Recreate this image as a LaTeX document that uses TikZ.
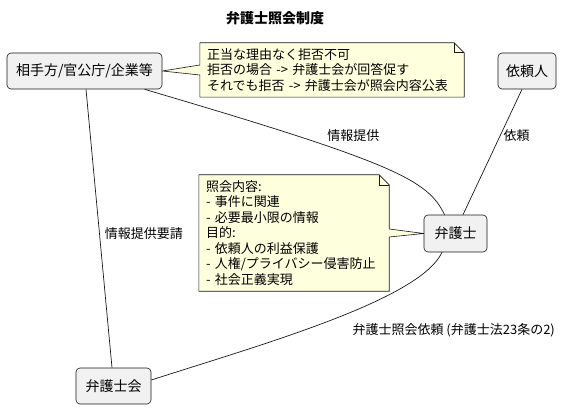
\documentclass[tikz,border=0pt]{standalone}
\usepackage[dvipsnames]{xcolor}
\usepackage{fontspec}
\setmainfont{Noto Sans CJK JP}
\usepackage{tikz}
\usetikzlibrary{calc,backgrounds}

\definecolor{boxFill}{HTML}{F1F1F1}
\definecolor{noteFill}{HTML}{FEFFDD}
\definecolor{lineGray}{HTML}{181818}

\begin{document}
\begin{tikzpicture}[x=1pt,y=-1pt,
	actor/.style={draw=lineGray,fill=boxFill,rounded corners=4pt,line width=0.6pt,
		font=\fontsize{14}{16}\selectfont,minimum height=36pt,inner sep=0pt},
	notetext/.style={align=left,inner sep=0pt,font=\fontsize{13}{15.5}\selectfont},
	noteshape/.style={fill=noteFill,draw=lineGray,line width=0.6pt},
	edgelabel/.style={inner sep=0pt,font=\fontsize{13}{15.5}\selectfont},
	link/.style={draw=lineGray,line width=0.7pt}]
	\newcommand{\foldSize}{10}
	\newcommand{\wedgeHalf}{5}
	\useasboundingbox (0,0) rectangle (565,409);

	% title
	\node (title) at (275,18) {\fontsize{14}{16}\selectfont\bfseries 弁護士照会制度};

	% actors
	\node[actor,minimum width=155pt] (partner) at (84.5,71) {相手方/官公庁/企業等};
	\node[actor,minimum width=58pt] (client) at (527,71) {依頼人};
	\node[actor,minimum width=63pt,minimum height=37pt] (lawyer) at (455.5,233.5) {弁護士};
	\node[actor,minimum width=75pt] (barassoc) at (113.5,386) {弁護士会};

	% notes
	\node[notetext,text width=250pt,minimum width=264pt,minimum height=54pt] (note_refuse) at (332,70)
		{正当な理由なく拒否不可\\拒否の場合 -> 弁護士会が回答促す\\それでも拒否 -> 弁護士会が照会内容公表};
	\node[notetext,text width=176pt,minimum width=190pt,minimum height=116pt] (note_scope) at (294,233)
		{照会内容:\\- 事件に関連\\- 必要最小限の情報\\目的:\\- 依頼人の利益保護\\- 人権/プライバシー侵害防止\\- 社会正義実現};

	% note outlines, folded corner and pointer
	\begin{pgfonlayer}{background}
		\path[noteshape]
			(note_refuse.north west) -- ($(note_refuse.north east)+(-\foldSize,0)$)
			-- ($(note_refuse.north east)+(0,\foldSize)$) -- (note_refuse.south east)
			-- (note_refuse.south west) -- ($(note_refuse.west)+(0,\wedgeHalf)$)
			-- (partner.east) -- ($(note_refuse.west)+(0,-\wedgeHalf)$) -- cycle;
		\draw[lineGray,line width=0.6pt] ($(note_refuse.north east)+(-\foldSize,0)$) -- ++(0,\foldSize) -- ++(\foldSize,0);

		\path[noteshape]
			(note_scope.north west) -- ($(note_scope.north east)+(-\foldSize,0)$)
			-- ($(note_scope.north east)+(0,\foldSize)$) -- ($(note_scope.east)+(0,-4)$)
			-- (lawyer.west) -- ($(note_scope.east)+(0,4)$) -- (note_scope.south east)
			-- (note_scope.south west) -- cycle;
		\draw[lineGray,line width=0.6pt] ($(note_scope.north east)+(-\foldSize,0)$) -- ++(0,\foldSize) -- ++(\foldSize,0);
	\end{pgfonlayer}

	% links
	\draw[link] ([xshift=1.5pt]partner.south) -- node[edgelabel,pos=0.52,anchor=west,xshift=5pt] (lbl_request) {情報提供要請} ([xshift=-1.5pt]barassoc.north);
	\draw[link] ([xshift=60pt]partner.south) .. controls (395,163) and (428,180) .. node[edgelabel,pos=0.39,xshift=3pt,yshift=18pt] (lbl_info) {情報提供} ([xshift=-11pt]lawyer.north);
	\draw[link] ([xshift=-5pt]client.south) -- node[edgelabel,pos=0.37,anchor=west,xshift=3pt] (lbl_ask) {依頼} ([xshift=7.5pt]lawyer.north);
	\draw[link] ([xshift=-13.5pt]lawyer.south) .. controls (420,300) and (260,345) .. node[edgelabel,pos=0.5,anchor=west,xshift=23pt,yshift=-9pt] (lbl_inquiry) {弁護士照会依頼 (弁護士法23条の2)} ([yshift=6pt]barassoc.east);
\end{tikzpicture}
\end{document}
